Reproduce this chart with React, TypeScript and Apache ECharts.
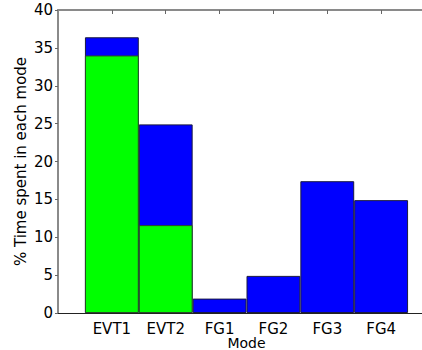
import React, { useEffect, useRef } from "react";
import * as echarts from "echarts";

const categories = ["", "EVT1", "EVT2", "FG1", "FG2", "FG3", "FG4", ""];
const totalValues = [null, 36.4, 24.9, 1.9, 4.9, 17.4, 14.9, null];
const eventValues = [null, 34.0, 11.6, null, null, null, null, null];
const yTicks = [0, 5, 10, 15, 20, 25, 30, 35, 40];

export default function App() {
  const ref = useRef<HTMLDivElement>(null);
  useEffect(() => {
    if (!ref.current) return;
    const chart = echarts.init(ref.current, undefined, { renderer: "svg" });
    const font = "DejaVu Sans";
    chart.setOption({
      animation: false,
      backgroundColor: "#ffffff",
      grid: {
        left: 58,
        top: 10,
        right: -13,
        bottom: 37,
        containLabel: false,
        outerBoundsMode: "none",
      },
      xAxis: [
        {
          type: "category",
          data: categories,
          boundaryGap: false,
          position: "bottom",
          name: "Mode",
          nameLocation: "middle",
          nameGap: 23,
          nameMoveOverlap: false,
          nameTextStyle: { fontFamily: font, fontSize: 14, color: "#000", lineHeight: 14 },
          axisLine: { lineStyle: { color: "#222", width: 1 } },
          axisTick: { show: false },
          axisLabel: {
            fontFamily: font,
            fontSize: 15,
            color: "#000",
            margin: 8,
            interval: 0,
          },
          splitLine: { show: false },
        },
        {
          type: "category",
          data: categories,
          boundaryGap: false,
          position: "top",
          axisLine: { lineStyle: { color: "#8a8a8a", width: 2 } },
          axisTick: {
            show: true,
            inside: true,
            length: 4,
            lineStyle: { color: "#666" },
            interval: (i: number) => i > 0 && i < categories.length - 1,
          },
          axisLabel: { show: false },
          splitLine: { show: false },
        },
      ],
      yAxis: {
        type: "value",
        min: yTicks[0],
        max: yTicks[yTicks.length - 1],
        interval: 5,
        name: "% Time spent in each mode",
        nameLocation: "middle",
        nameGap: 30,
        nameMoveOverlap: false,
        nameTextStyle: { fontFamily: font, fontSize: 15, color: "#000" },
        axisLine: { show: true, lineStyle: { color: "#8a8a8a", width: 2 } },
        axisTick: { show: true, length: 3, lineStyle: { color: "#666" } },
        axisLabel: { fontFamily: font, fontSize: 15, color: "#000", margin: 5 },
        splitLine: { show: false },
      },
      series: [
        {
          type: "bar",
          data: totalValues,
          barWidth: "100%",
          barGap: "-100%",
          itemStyle: { color: "#0000ff", borderColor: "#1a1a40", borderWidth: 1 },
        },
        {
          type: "bar",
          data: eventValues,
          barWidth: "100%",
          barGap: "-100%",
          itemStyle: { color: "#00ff00", borderColor: "#2a4a2a", borderWidth: 1 },
        },
      ],
    });
    return () => chart.dispose();
  }, []);
  return (
    <div
      ref={ref}
      style={{ position: "fixed", left: 0, top: 0, width: 422, height: 350 }}
    />
  );
}
